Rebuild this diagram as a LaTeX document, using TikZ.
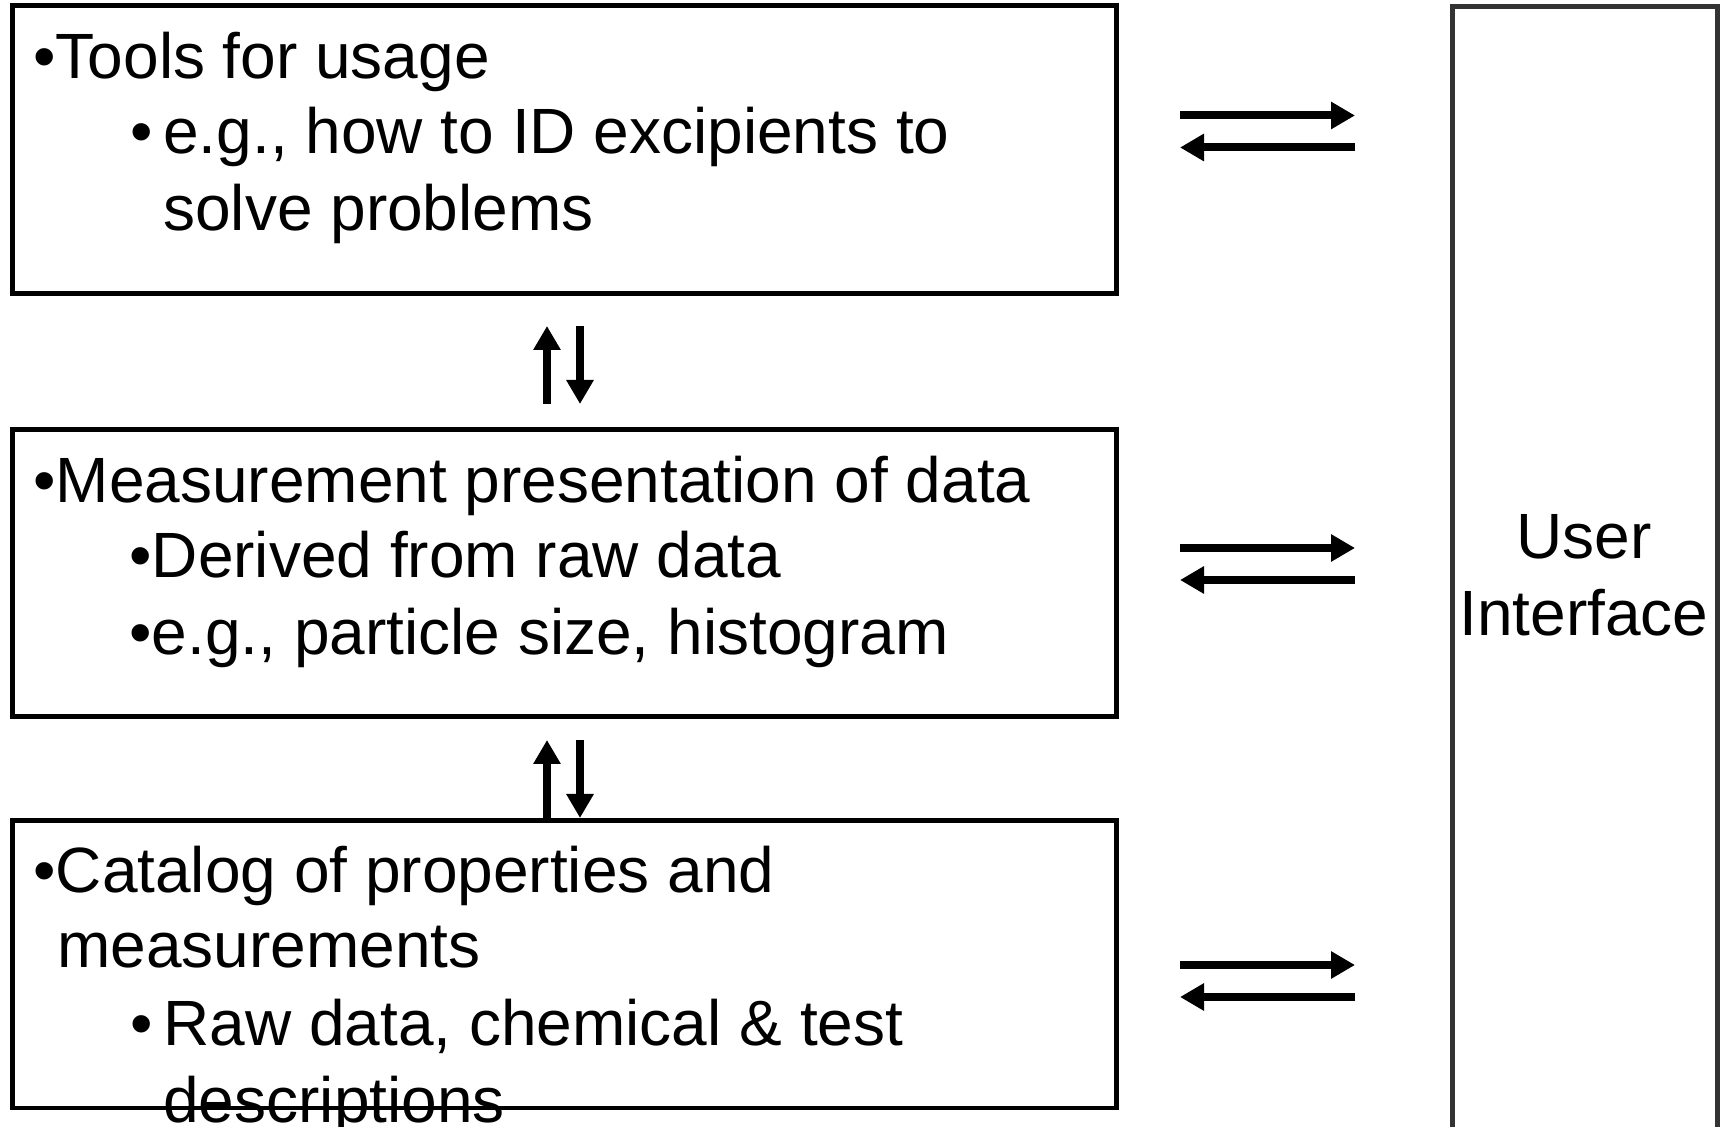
\documentclass[tikz,border=0pt]{standalone}
\usepackage{fontspec}
\setmainfont{Liberation Sans}
\usetikzlibrary{arrows.meta}
\begin{document}
\begin{tikzpicture}[x=0.5pt,y=-0.5pt,
  box/.style={draw=black,line width=2.3pt,minimum width=552pt,anchor=north west,inner sep=0pt},
  uibox/.style={draw=black!80,line width=2.6pt,anchor=north west,inner sep=0pt},
  txt/.style={anchor=base west,inner sep=0pt,font=\fontsize{32}{38}\selectfont},
  ctxt/.style={anchor=base,inner sep=0pt,font=\fontsize{32}{38}\selectfont},
  flow/.style={line width=4pt,-{Triangle[length=12pt,width=13pt]}}]
\clip (0,0) rectangle (1725,1127);
\fill[white] (0,0) rectangle (1725,1127);
% boxes
\node[box,minimum height=144pt] (b1) at (10,3) {};
\node[box,minimum height=143.5pt] (b2) at (10,427) {};
\node[box,minimum height=143.8pt] (b3) at (10,818) {};
\node[uibox,minimum width=132.5pt,minimum height=600pt] (ui) at (1450,4) {};
% texts box 1
\node[txt] (t1a) at (33,79) {•Tools for usage};
\node[txt] (t1bb) at (130,154) {•};
\node[txt] (t1b) at (163,154) {e.g., how to ID excipients to};
\node[txt] (t1c) at (163,231) {solve problems};
% texts box 2
\node[txt] (t2a) at (33,503) {•Measurement presentation of data};
\node[txt] (t2b) at (129,578) {•Derived from raw data};
\node[txt] (t2c) at (129,655) {•e.g., particle size, histogram};
% texts box 3
\node[txt] (t3a) at (33,893) {•Catalog of properties and};
\node[txt] (t3b) at (57,968) {measurements};
\node[txt] (t3cb) at (130,1045) {•};
\node[txt] (t3c) at (163,1045) {Raw data, chemical \& test};
\node[txt] (t3d) at (163,1122) {descriptions};
% UI text
\node[ctxt] (u1) at (1584,559) {User};
\node[ctxt] (u2) at (1584,636) {Interface};
% horizontal arrow coordinates
\coordinate (h1a) at (1180,115.5); \coordinate (h1b) at (1355,115.5);
\coordinate (h1c) at (1355,147.5); \coordinate (h1d) at (1180,147.5);
\coordinate (h2a) at (1180,548); \coordinate (h2b) at (1355,548);
\coordinate (h2c) at (1355,580); \coordinate (h2d) at (1180,580);
\coordinate (h3a) at (1180,965); \coordinate (h3b) at (1355,965);
\coordinate (h3c) at (1355,997); \coordinate (h3d) at (1180,997);
\draw[flow] (h1a) -- (h1b);
\draw[flow] (h1c) -- (h1d);
\draw[flow] (h2a) -- (h2b);
\draw[flow] (h2c) -- (h2d);
\draw[flow] (h3a) -- (h3b);
\draw[flow] (h3c) -- (h3d);
% vertical arrows
\coordinate (v1a) at (547,404); \coordinate (v1b) at (547,326);
\coordinate (v1c) at (580,326); \coordinate (v1d) at (580,404);
\coordinate (v2a) at (547,818); \coordinate (v2b) at (547,740);
\coordinate (v2c) at (580,740); \coordinate (v2d) at (580,818);
\draw[flow] (v1a) -- (v1b);
\draw[flow] (v1c) -- (v1d);
\draw[flow] (v2a) -- (v2b);
\draw[flow] (v2c) -- (v2d);
\end{tikzpicture}
\end{document}
